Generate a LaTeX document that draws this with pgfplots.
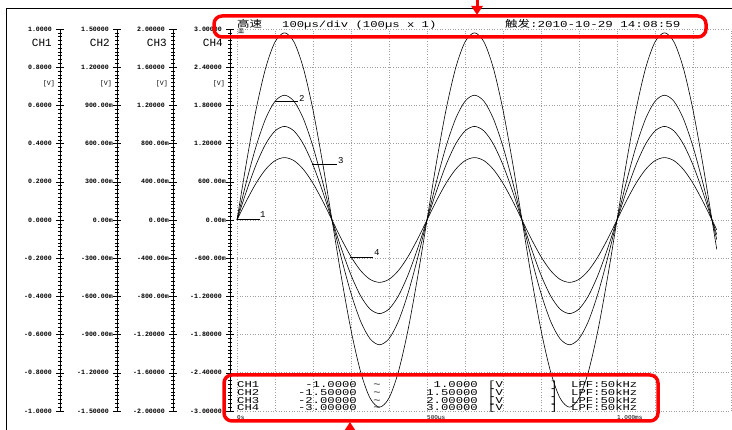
\documentclass[border=0pt]{standalone}
\usepackage{pgfplots}
\pgfplotsset{compat=1.18}
\usepackage{pgfplotstable}
\usepackage{fontspec}
\setmainfont{Liberation Mono}
\newfontfamily\widefont[FakeStretch=1.36]{Liberation Mono}
\newfontfamily\cjkfont[FakeStretch=1.3]{Noto Sans CJK SC}
\newfontfamily\cjkplain{Noto Sans CJK SC}
\usetikzlibrary{arrows.meta}

% time in ms; display values in CH4 units (V)
\pgfplotstableread{
t c1 c2 c3 c4
0.000 0 0 0 0
0.025 0.9085 0.6057 0.4543 0.3028
0.050 1.7281 1.1521 0.8641 0.5760
0.075 2.3785 1.5857 1.1893 0.7928
0.100 2.7961 1.8641 1.3981 0.9320
0.125 2.94 1.96 1.47 0.98
0.150 2.7961 1.8641 1.3981 0.9320
0.175 2.3785 1.5857 1.1893 0.7928
0.200 1.7281 1.1521 0.8641 0.5760
0.225 0.9085 0.6057 0.4543 0.3028
0.250 0 0 0 0
0.275 -0.9085 -0.6057 -0.4543 -0.3028
0.300 -1.7281 -1.1521 -0.8641 -0.5760
0.325 -2.3785 -1.5857 -1.1893 -0.7928
0.350 -2.7961 -1.8641 -1.3981 -0.9320
0.375 -2.94 -1.96 -1.47 -0.98
0.400 -2.7961 -1.8641 -1.3981 -0.9320
0.425 -2.3785 -1.5857 -1.1893 -0.7928
0.450 -1.7281 -1.1521 -0.8641 -0.5760
0.475 -0.9085 -0.6057 -0.4543 -0.3028
0.500 0 0 0 0
0.525 0.9085 0.6057 0.4543 0.3028
0.550 1.7281 1.1521 0.8641 0.5760
0.575 2.3785 1.5857 1.1893 0.7928
0.600 2.7961 1.8641 1.3981 0.9320
0.625 2.94 1.96 1.47 0.98
0.650 2.7961 1.8641 1.3981 0.9320
0.675 2.3785 1.5857 1.1893 0.7928
0.700 1.7281 1.1521 0.8641 0.5760
0.725 0.9085 0.6057 0.4543 0.3028
0.750 0 0 0 0
0.775 -0.9085 -0.6057 -0.4543 -0.3028
0.800 -1.7281 -1.1521 -0.8641 -0.5760
0.825 -2.3785 -1.5857 -1.1893 -0.7928
0.850 -2.7961 -1.8641 -1.3981 -0.9320
0.875 -2.94 -1.96 -1.47 -0.98
0.900 -2.7961 -1.8641 -1.3981 -0.9320
0.925 -2.3785 -1.5857 -1.1893 -0.7928
0.950 -1.7281 -1.1521 -0.8641 -0.5760
0.975 -0.9085 -0.6057 -0.4543 -0.3028
1.000 0 0 0 0
1.025 0.9085 0.6057 0.4543 0.3028
1.050 1.7281 1.1521 0.8641 0.5760
1.075 2.3785 1.5857 1.1893 0.7928
1.100 2.7961 1.8641 1.3981 0.9320
1.125 2.94 1.96 1.47 0.98
1.150 2.7961 1.8641 1.3981 0.9320
1.175 2.3785 1.5857 1.1893 0.7928
1.200 1.7281 1.1521 0.8641 0.5760
1.225 0.9085 0.6057 0.4543 0.3028
1.250 0 0 0 0
1.2625 -0.4599 -0.3066 -0.2300 -0.1533
}\wave

\pgfplotsset{chaxis/.style={
  scale only axis, width=10pt, height=382pt, anchor=south west,
  xmin=0, xmax=1, hide x axis, axis y line=left,
  axis line style={-, line width=0.6pt},
  tick align=center, major tick length=8pt, minor tick length=4pt,
  minor y tick num=9,
  every tick/.style={black, line width=0.5pt},
  yticklabel style={font=\bfseries\fontsize{6.6}{7}\selectfont, anchor=east, inner sep=0pt},
  clip=false}}

\begin{document}
\begin{tikzpicture}
\path[use as bounding box] (0pt,0pt) rectangle (732pt,430pt);
\clip (0pt,0pt) rectangle (732pt,430pt);
\fill[white] (0pt,0pt) rectangle (732pt,430pt);

% main waveform area
\begin{axis}[at={(237pt,19pt)}, anchor=south west, scale only axis,
  width=494pt, height=382pt, xmin=0, xmax=1.3, ymin=-3, ymax=3,
  axis line style={draw=none}, tick style={draw=none},
  xtick={0,0.1,0.2,0.3,0.4,0.5,0.6,0.7,0.8,0.9,1.0,1.1,1.2,1.3},
  ytick={-3,-2.4,-1.8,-1.2,-0.6,0,0.6,1.2,1.8,2.4,3},
  xticklabels={}, yticklabels={},
  grid=major, major grid style={gray!75, line width=0.7pt, dash pattern=on 0.8pt off 1.8pt},
  clip=false]
\addplot[black, line width=0.6pt, smooth] table[x=t, y=c1]{\wave};
\addplot[black, line width=0.6pt, smooth] table[x=t, y=c2]{\wave};
\addplot[black, line width=0.6pt, smooth] table[x=t, y=c3]{\wave};
\addplot[black, line width=0.6pt, smooth] table[x=t, y=c4]{\wave};
\node[anchor=base west, inner sep=0pt, font=\fontsize{6}{6}\selectfont] at (axis cs:0,-3.13) {0s};
\node[anchor=base west, inner sep=0pt, font=\fontsize{6}{6}\selectfont] at (axis cs:0.5,-3.13) {500µs};
\node[anchor=base west, inner sep=0pt, font=\fontsize{6}{6}\selectfont] at (axis cs:1.0,-3.13) {1.000ms};
\end{axis}

% channel scales
\begin{axis}[chaxis, at={(60pt,19pt)}, ymin=-1, ymax=1,
  ytick={-1,-0.8,-0.6,-0.4,-0.2,0,0.2,0.4,0.6,0.8,1},
  yticklabels={-1.0000\hphantom{m},-0.8000\hphantom{m},-0.6000\hphantom{m},-0.4000\hphantom{m},-0.2000\hphantom{m},0.0000\hphantom{m},0.2000\hphantom{m},0.4000\hphantom{m},0.6000\hphantom{m},0.8000\hphantom{m},1.0000\hphantom{m}}]
\end{axis}
\begin{axis}[chaxis, at={(117pt,19pt)}, ymin=-1.5, ymax=1.5,
  ytick={-1.5,-1.2,-0.9,-0.6,-0.3,0,0.3,0.6,0.9,1.2,1.5},
  yticklabels={-1.50000\hphantom{m},-1.20000\hphantom{m},-900.00m,-600.00m,-300.00m,0.00m,300.00m,600.00m,900.00m,1.20000\hphantom{m},1.50000\hphantom{m}}]
\end{axis}
\begin{axis}[chaxis, at={(173pt,19pt)}, ymin=-2, ymax=2,
  ytick={-2,-1.6,-1.2,-0.8,-0.4,0,0.4,0.8,1.2,1.6,2},
  yticklabels={-2.00000\hphantom{m},-1.60000\hphantom{m},-1.20000\hphantom{m},-800.00m,-400.00m,0.00m,400.00m,800.00m,1.20000\hphantom{m},1.60000\hphantom{m},2.00000\hphantom{m}}]
\end{axis}
\begin{axis}[chaxis, at={(230pt,19pt)}, ymin=-3, ymax=3,
  ytick={-3,-2.4,-1.8,-1.2,-0.6,0,0.6,1.2,1.8,2.4,3},
  yticklabels={-3.00000\hphantom{m},-2.40000\hphantom{m},-1.80000\hphantom{m},-1.20000\hphantom{m},-600.00m,0.00m,600.00m,1.20000\hphantom{m},1.80000\hphantom{m},2.40000\hphantom{m},3.00000\hphantom{m}}]
\end{axis}

\begin{scope}[x=1pt, y=1pt]
% channel names and units
\foreach \xx/\nm in {52/CH1, 110/CH2, 167/CH3, 223/CH4}{
  \node[anchor=base east, inner sep=0pt, font=\fontsize{11}{11}\selectfont] at (\xx,383.3) {\nm};
}
\foreach \xx in {55,112,168,225}{
  \node[anchor=east, inner sep=0pt, font=\fontsize{6.6}{7}\selectfont] at (\xx,346) {[V]};
}
% trigger marker
\node[anchor=center, inner sep=0pt, font=\cjkplain\fontsize{6}{6}\selectfont] at (241,399) {皿};
% channel markers on the traces
\draw[line width=0.5pt] (237,211) -- (260,211);
\node[anchor=west, inner sep=0pt, font=\fontsize{9}{9}\selectfont] at (260,215) {1};
\draw[line width=0.5pt] (275,329) -- (298,329);
\node[anchor=west, inner sep=0pt, font=\fontsize{9}{9}\selectfont] at (299,332) {2};
\draw[line width=0.5pt] (312,266) -- (337,266);
\node[anchor=west, inner sep=0pt, font=\fontsize{9}{9}\selectfont] at (338,269) {3};
\draw[line width=0.5pt] (350,173) -- (373,173);
\node[anchor=west, inner sep=0pt, font=\fontsize{9}{9}\selectfont] at (374,177) {4};

% header line
\node[anchor=base west, inner sep=0pt, font=\cjkfont\fontsize{9.6}{10}\selectfont] at (237,402.5) {高速};
\node[anchor=base west, inner sep=0pt, font=\widefont\fontsize{9}{10}\selectfont] at (282,402.5) {100µs/div (100µs x 1)};
\node[anchor=base west, inner sep=0pt, font=\cjkfont\fontsize{9.6}{10}\selectfont] at (505,402.5) {触发};
\node[anchor=base west, inner sep=0pt, font=\widefont\fontsize{9.2}{10}\selectfont] at (530,402.5) {:2010-10-29 14:08:59};

% channel ranges
\foreach \yy/\ch/\lo/\hi in {42.25/CH1/-1.0000/1.0000, 34.25/CH2/-1.50000/1.50000, 26.25/CH3/-2.00000/2.00000, 19.25/CH4/-3.00000/3.00000}{
  \node[anchor=base west, inner sep=0pt, font=\widefont\fontsize{9}{9}\selectfont] at (237,\yy) {\ch};
  \node[anchor=base east, inner sep=0pt, font=\widefont\fontsize{9}{9}\selectfont] at (357,\yy) {\lo};
  \node[anchor=base, inner sep=0pt, font=\widefont\fontsize{9}{9}\selectfont] at (377,\yy) {\textasciitilde};
  \node[anchor=base east, inner sep=0pt, font=\widefont\fontsize{9}{9}\selectfont] at (478,\yy) {\hi};
  \node[anchor=base west, inner sep=0pt, font=\widefont\fontsize{9}{9}\selectfont] at (488,\yy) {[V};
  \node[anchor=base west, inner sep=0pt, font=\widefont\fontsize{9}{9}\selectfont] at (550,\yy) {]};
  \node[anchor=base west, inner sep=0pt, font=\widefont\fontsize{9}{9}\selectfont] at (571,\yy) {LPF:50kHz};
}

% frame
\draw[line width=1.3pt] (6.5,-5) -- (6.5,421.5) -- (740,421.5);

% red annotations
\draw[red, line width=3.5pt, rounded corners=8pt] (214,414) rectangle (706,393);
\draw[red, line width=3.5pt, rounded corners=8pt] (224,55) rectangle (658,9);
\draw[red, line width=3pt, -{Triangle[length=9pt, width=11pt]}] (477,445) -- (477,415);
\draw[red, line width=3pt, -{Triangle[length=9pt, width=11pt]}] (350,-15) -- (350,8);
\end{scope}
\end{tikzpicture}
\end{document}
